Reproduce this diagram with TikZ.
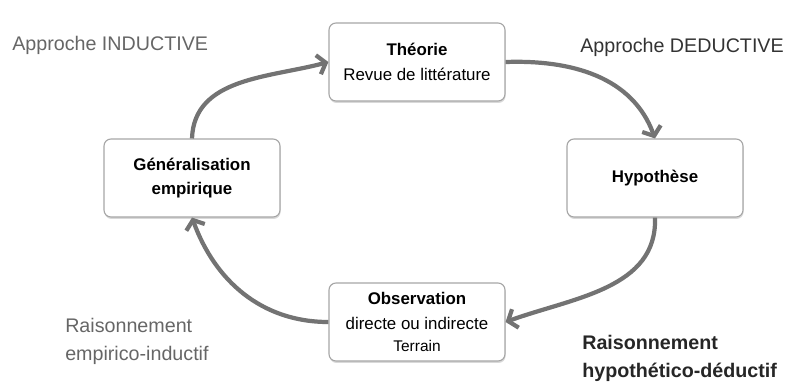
\documentclass[tikz,border=0pt]{standalone}
\usepackage{fontspec}
\setmainfont{Liberation Sans}
\usetikzlibrary{arrows.meta,shadows}
\tikzset{
  etape/.style={draw=black!35, line width=0.8pt, rounded corners=5pt, fill=white,
    minimum width=4.4cm, minimum height=1.95cm, align=center,
    font=\fontsize{12}{17.5}\selectfont,
    drop shadow={opacity=0.3, shadow xshift=0.4pt, shadow yshift=-1.4pt}},
  fleche/.style={line width=3pt, draw=black!55, -{Straight Barb[length=5.5pt,width=14pt]}},
  approche/.style={inner sep=0pt, anchor=west, align=left, font=\fontsize{14}{20}\selectfont}
}
\begin{document}
\begin{tikzpicture}[x=0.025cm, y=-0.025cm]
    \useasboundingbox (0,0) rectangle (790,383);
    \node[etape] (theo) at (417,62) {\textbf{Théorie}\\Revue de littérature};
    \node[etape] (hyp) at (655,178) {\textbf{Hypothèse}};
    \node[etape] (obs) at (417,322) {\textbf{Observation}\\directe ou indirecte\\[-2pt]{\fontsize{11}{13}\selectfont Terrain}};
    \node[etape] (gen) at (192,178) {\textbf{Généralisation}\\\textbf{empirique}};
    \draw[fleche] (gen.north) to[out=88,in=195] (theo.west);
    \draw[fleche] (theo.east) to[out=2,in=110] (hyp.north);
    \draw[fleche] (hyp.south) to[out=-88,in=20] (obs.east);
    \draw[fleche] (obs.west) to[out=180,in=-70] (gen.south);
    \node[approche, text=black!60] (ind) at (12,45) {Approche INDUCTIVE};
    \node[approche, text=black!80] (ded) at (580,47) {Approche DEDUCTIVE};
    \node[approche, text=black!60] (rind) at (65,341) {Raisonnement\\empirico-inductif};
    \node[approche, text=black!85, font=\fontsize{14}{20}\selectfont\bfseries] (rded) at (582,358) {Raisonnement\\hypothético-déductif};
\end{tikzpicture}
\end{document}
